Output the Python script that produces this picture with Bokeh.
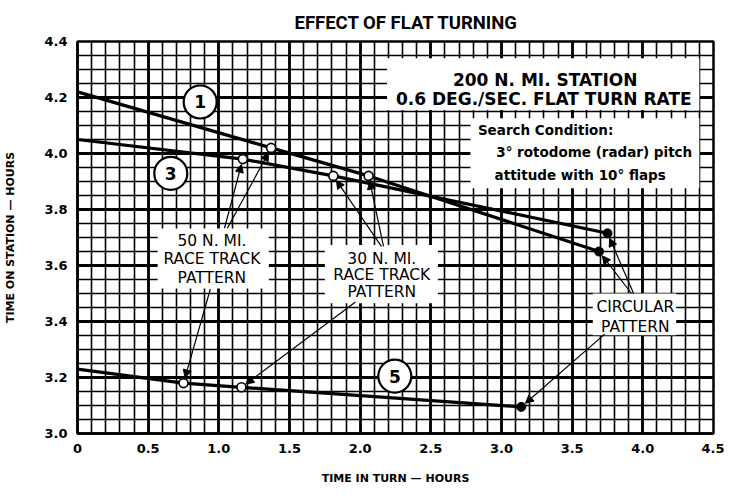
import math
from bokeh.plotting import figure
from bokeh.models import Range1d, FixedTicker, Label, BoxAnnotation, Arrow, NormalHead
from bokeh.embed import file_html
from bokeh.resources import INLINE

# ---- data ----
# index 0: no turning, 1: 50 N.MI. race track, 2: 30 N.MI. race track, 3: circular pattern
curve1_x = [0.0, 1.37, 2.06, 3.69]
curve1_y = [4.22, 4.02, 3.92, 3.65]
curve3_x = [0.0, 1.17, 1.81, 3.75]
curve3_y = [4.05, 3.98, 3.92, 3.715]
curve5_x = [0.0, 0.75, 1.16, 3.14]
curve5_y = [3.23, 3.18, 3.165, 3.095]
curve_names = ["1", "3", "5"]
name_x = [0.868, 0.66, 2.245]
name_y = [4.184, 3.929, 3.205]

x_ticks = [0.0, 0.5, 1.0, 1.5, 2.0, 2.5, 3.0, 3.5, 4.0, 4.5]
x_tick_labels = ["0", "0.5", "1.0", "1.5", "2.0", "2.5", "3.0", "3.5", "4.0", "4.5"]
y_ticks = [3.0, 3.2, 3.4, 3.6, 3.8, 4.0, 4.2, 4.4]
y_tick_labels = ["3.0", "3.2", "3.4", "3.6", "3.8", "4.0", "4.2", "4.4"]

FONT = "DejaVu Sans"
TFONT = "Roboto"
FW, FH = 636, 392

p = figure(frame_width=FW, frame_height=FH,
           x_range=Range1d(0, 4.5), y_range=Range1d(3.0, 4.4),
           output_backend="svg", toolbar_location=None,
           min_border_left=77, min_border_right=11, min_border_top=41, min_border_bottom=49,
           background_fill_color="white", border_fill_color="white",
           title="EFFECT OF FLAT TURNING")

p.title.align = "left"
p.title.text_font = TFONT
p.title.text_font_size = "18.5px"
p.title.text_font_style = "bold"
p.title.text_color = "black"
p.title.standoff = 15
p.title.offset = 217

# axes
for ax, ticks, labels in ((p.xaxis[0], x_ticks, x_tick_labels), (p.yaxis[0], y_ticks, y_tick_labels)):
    ax.ticker = FixedTicker(ticks=ticks)
    ax.major_label_overrides = {t: l for t, l in zip(ticks, labels)}
    ax.major_tick_line_color = None
    ax.minor_tick_line_color = None
    ax.axis_line_color = "black"
    ax.axis_line_width = 2.5
    ax.major_label_text_font = FONT
    ax.major_label_text_font_style = "bold"
    ax.major_label_text_font_size = "13px"
    ax.major_label_text_color = "black"
    ax.axis_label_text_font = FONT
    ax.axis_label_text_font_size = "11px"
    ax.axis_label_text_font_style = "bold"
    ax.axis_label_text_color = "black"
p.xaxis.major_label_standoff = 4
p.yaxis.major_label_standoff = 4
p.xaxis.axis_label = "TIME IN TURN \u2014 HOURS"
p.yaxis.axis_label = "TIME ON STATION \u2014 HOURS"
p.xaxis.axis_label_standoff = 16
p.yaxis.axis_label_standoff = 24
p.outline_line_color = "black"
p.outline_line_width = 2.5
p.outline_line_alpha = 1

# grid
p.xgrid.ticker = FixedTicker(ticks=x_ticks, minor_ticks=[i / 10 for i in range(46)])
p.ygrid.ticker = FixedTicker(ticks=y_ticks, minor_ticks=[3.0 + i * 0.05 for i in range(29)])
for g in (p.xgrid[0], p.ygrid[0]):
    g.grid_line_color = "black"
    g.grid_line_width = 2.8
    g.grid_line_alpha = 1
    g.minor_grid_line_color = "black"
    g.minor_grid_line_width = 1.6
    g.minor_grid_line_alpha = 1

# curves
curves = [(curve1_x, curve1_y), (curve3_x, curve3_y), (curve5_x, curve5_y)]
for cx, cy in curves:
    p.line(cx, cy, line_color="black", line_width=3.2)
    p.scatter(cx[1:3], cy[1:3], size=9, marker="circle", fill_color="white",
              line_color="black", line_width=1.6)
    p.scatter(cx[3:4], cy[3:4], size=9, marker="circle", fill_color="black", line_color="black")

# numbered circles
p.scatter(name_x, name_y, size=33, marker="circle", fill_color="white",
          line_color="black", line_width=2.2)

# white label boxes
boxes = [
    (2.19, 4.40, 4.155, 4.34),
    (2.78, 4.40, 3.876, 4.126),
    (0.567, 1.354, 3.518, 3.732),
    (1.75, 2.55, 3.465, 3.673),
    (3.646, 4.236, 3.351, 3.50),
]
for l, r, b, t in boxes:
    p.add_layout(BoxAnnotation(left=l, right=r, bottom=b, top=t, fill_color="white",
                               fill_alpha=1, line_color=None))

# leader arrows (ends are the data points)
PXX, PXY = FW / 4.5, FH / 1.4


def leader(xs, ys, xe, ye, gap=5.5):
    dx, dy = (xe - xs) * PXX, (ye - ys) * PXY
    L = math.hypot(dx, dy)
    f = (L - gap) / L
    p.add_layout(Arrow(x_start=xs, y_start=ys, x_end=xs + (xe - xs) * f, y_end=ys + (ye - ys) * f,
                       line_color="black", line_width=1.2,
                       end=NormalHead(size=8, fill_color="black", line_color="black", line_width=1)))


leader(1.04, 3.733, curve3_x[1], curve3_y[1])
leader(1.06, 3.733, curve1_x[1], curve1_y[1])
leader(0.94, 3.516, curve5_x[1], curve5_y[1])
leader(2.15, 3.668, curve3_x[2], curve3_y[2])
leader(2.165, 3.668, curve1_x[2], curve1_y[2])
leader(1.967, 3.47, curve5_x[2], curve5_y[2])
leader(3.935, 3.50, curve3_x[3], curve3_y[3])
leader(3.92, 3.50, curve1_x[3], curve1_y[3])
leader(3.73, 3.355, curve5_x[3], curve5_y[3])


def lab(x, y, text, size, align="center", font=FONT, style="bold", angle=0):
    p.add_layout(Label(x=x, y=y, text=text, text_font=font, text_font_size=size,
                       text_font_style=style, text_align=align, text_baseline="middle",
                       text_color="black", angle=angle))


for n, x, y in zip(curve_names, name_x, name_y):
    lab(x, y, n, "17px")

lab(3.309, 4.262, "200 N. MI. STATION", "17px")
lab(3.299, 4.196, "0.6 DEG./SEC. FLAT TURN RATE", "17px")
lab(2.833, 4.083, "Search Condition:", "13.5px", align="left")
lab(2.963, 4.006, "3\u00b0 rotodome (radar) pitch", "13.5px", align="left")
lab(2.951, 3.925, "attitude with 10\u00b0 flaps", "13.5px", align="left")
for y, t in zip([3.686, 3.623, 3.555], ["50 N. MI.", "RACE TRACK", "PATTERN"]):
    lab(0.951, y, t, "15.5px", style="normal")
for y, t in zip([3.625, 3.565, 3.506], ["30 N. MI.", "RACE TRACK", "PATTERN"]):
    lab(2.153, y, t, "15.5px", style="normal")
for y, t in zip([3.452, 3.381], ["CIRCULAR", "PATTERN"]):
    lab(3.947, y, t, "15.5px", style="normal")

open("out.html", "w").write(file_html(p, INLINE))
